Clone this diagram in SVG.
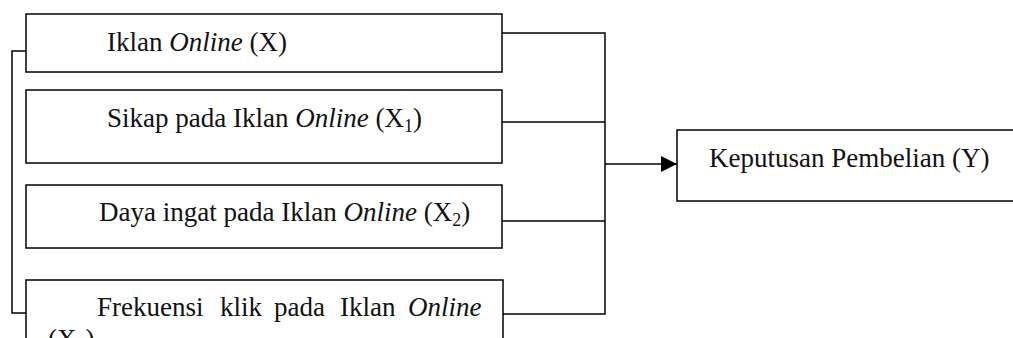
<svg xmlns="http://www.w3.org/2000/svg" width="1013" height="338" viewBox="0 0 1013 338">
  <style>
    .box { fill: #ffffff; stroke: #000000; stroke-width: 1.5; }
    .wire { fill: none; stroke: #000000; stroke-width: 1.5; }
    .lbl { font-family: "Liberation Serif", "DejaVu Serif", serif; font-size: 27px; fill: #111111; }
    .it { font-style: italic; }
    .sub { font-size: 18px; }
  </style>
  <defs>
    <marker id="arrowBig" viewBox="0 0 16 16" refX="16" refY="8" markerWidth="16" markerHeight="16" markerUnits="userSpaceOnUse" orient="auto">
      <path d="M0,0 L16,8 L0,16 Z" fill="#000000"/>
    </marker>
  </defs>
  <rect width="1013" height="338" fill="#ffffff"/>

  <g id="connectors">
    <!-- bracket on the left joining Iklan Online and Frekuensi -->
    <path class="wire" d="M26,51 H12 V313 H26"/>
    <!-- outputs of the four variables merging on the right -->
    <path class="wire" d="M502,33 H605 V314 H502"/>
    <path class="wire" d="M502,122 H605"/>
    <path class="wire" d="M502,221 H605"/>
    <path class="wire" d="M605,164 H677" marker-end="url(#arrowBig)"/>
  </g>

  <g id="node-x">
    <rect class="box" x="26" y="14" width="476" height="58"/>
    <text class="lbl" x="107" y="51">Iklan <tspan class="it">Online</tspan> (X)</text>
  </g>

  <g id="node-x1">
    <rect class="box" x="26" y="90" width="476" height="73"/>
    <text class="lbl" x="107" y="127">Sikap pada Iklan <tspan class="it">Online</tspan> (X<tspan class="sub" dy="5">1</tspan><tspan dy="-5">)</tspan></text>
  </g>

  <g id="node-x2">
    <rect class="box" x="26" y="185" width="476" height="63"/>
    <text class="lbl" x="99" y="221">Daya ingat pada Iklan <tspan class="it">Online</tspan> (X<tspan class="sub" dy="5">2</tspan><tspan dy="-5">)</tspan></text>
  </g>

  <g id="node-x3">
    <rect class="box" x="26" y="280" width="477" height="90"/>
    <text class="lbl" y="316"><tspan x="97">Frekuensi</tspan><tspan x="220">klik</tspan><tspan x="274">pada</tspan><tspan x="340">Iklan</tspan><tspan x="408" class="it">Online</tspan></text>
    <text class="lbl" x="48" y="348">(X<tspan class="sub" dy="5">3</tspan><tspan dy="-5">)</tspan></text>
  </g>

  <g id="node-y">
    <rect class="box" x="677" y="130" width="350" height="71"/>
    <text class="lbl" x="709" y="167">Keputusan Pembelian (Y)</text>
  </g>
</svg>
